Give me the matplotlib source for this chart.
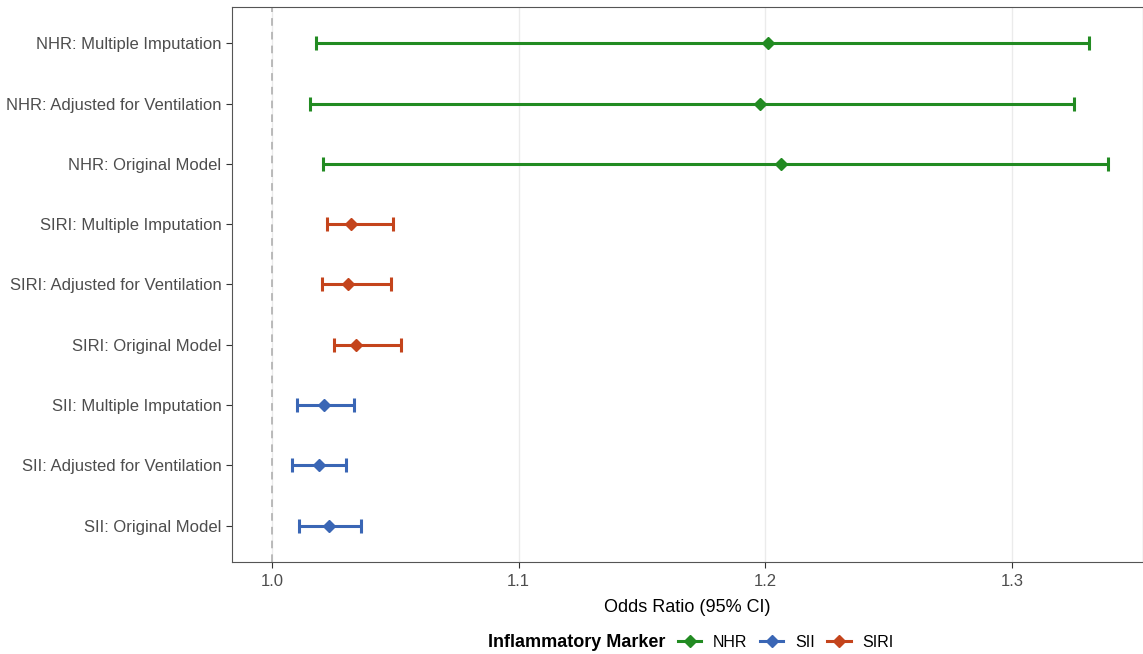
import numpy as np
import matplotlib
matplotlib.use("Agg")
import matplotlib.pyplot as plt
from matplotlib.lines import Line2D

# data (bottom to top)
labels = ["SII: Original Model", "SII: Adjusted for Ventilation", "SII: Multiple Imputation",
          "SIRI: Original Model", "SIRI: Adjusted for Ventilation", "SIRI: Multiple Imputation",
          "NHR: Original Model", "NHR: Adjusted for Ventilation", "NHR: Multiple Imputation"]
marker_group = ["SII", "SII", "SII", "SIRI", "SIRI", "SIRI", "NHR", "NHR", "NHR"]
odds = [1.0231, 1.0190, 1.0211, 1.0340, 1.0308, 1.0320, 1.2063, 1.1978, 1.2011]
lower = [1.0109, 1.0081, 1.0101, 1.0251, 1.0203, 1.0223, 1.0207, 1.0154, 1.0178]
upper = [1.0361, 1.0300, 1.0332, 1.0523, 1.0482, 1.0490, 1.3389, 1.3250, 1.3312]

groups = ["NHR", "SII", "SIRI"]
colors = {"NHR": "#228B22", "SII": "#3A66B5", "SIRI": "#C4441C"}

plt.rcParams['font.family'] = ['Liberation Sans', 'DejaVu Sans']

fig = plt.figure(figsize=(11.43, 6.54), dpi=100)
ax = fig.add_axes([0.203, 0.1407, 0.797, 0.8486])

y = np.arange(len(labels))
for i in range(len(labels)):
    c = colors[marker_group[i]]
    ax.errorbar(odds[i], y[i], xerr=[[odds[i] - lower[i]], [upper[i] - odds[i]]],
                fmt='D', color=c, ecolor=c, elinewidth=2.2, capsize=4.8, capthick=2.2,
                markersize=6, zorder=3)

ax.axvline(1.0, color='#AAAAAA', linestyle=(0, (5, 4)), linewidth=1.1, zorder=1)

ax.set_xlim(0.9838, 1.353)
ax.set_ylim(-0.6, len(labels) - 0.4)
ax.set_xticks([1.0, 1.1, 1.2, 1.3])
ax.set_xticklabels(["1.0", "1.1", "1.2", "1.3"])
ax.set_yticks(y)
ax.set_yticklabels(labels)
ax.grid(axis='x', color='#EBEBEB', linewidth=1.0, zorder=0)
ax.set_axisbelow(True)
ax.tick_params(axis='both', colors='#333333', labelcolor='#4D4D4D', labelsize=12, length=4, width=0.8)
ax.tick_params(axis='x', pad=5)
for s in ax.spines.values():
    s.set_color('#555555')
    s.set_linewidth(0.8)
ax.set_xlabel("Odds Ratio (95% CI)", fontsize=13, color='black', labelpad=7)

handles = [Line2D([], [], color=colors[g], marker='D', markersize=6, linewidth=2.2) for g in groups]
leg = fig.legend(handles, groups, loc='center', bbox_to_anchor=(0.6045, 0.018), ncol=3,
                 frameon=False, fontsize=11.5, handlelength=1.45, columnspacing=0.75,
                 handletextpad=0.75, title="Inflammatory Marker",
                 title_fontproperties={'weight': 'bold', 'size': 13})
# put the title to the left of the entries
c = leg.get_children()[0]
title = c.get_children()[0]
hpack = c.get_children()[1]
c._children = [hpack]
hpack._children = [title] + hpack.get_children()
hpack.sep = 9

fig.savefig("out.png", dpi=100)
